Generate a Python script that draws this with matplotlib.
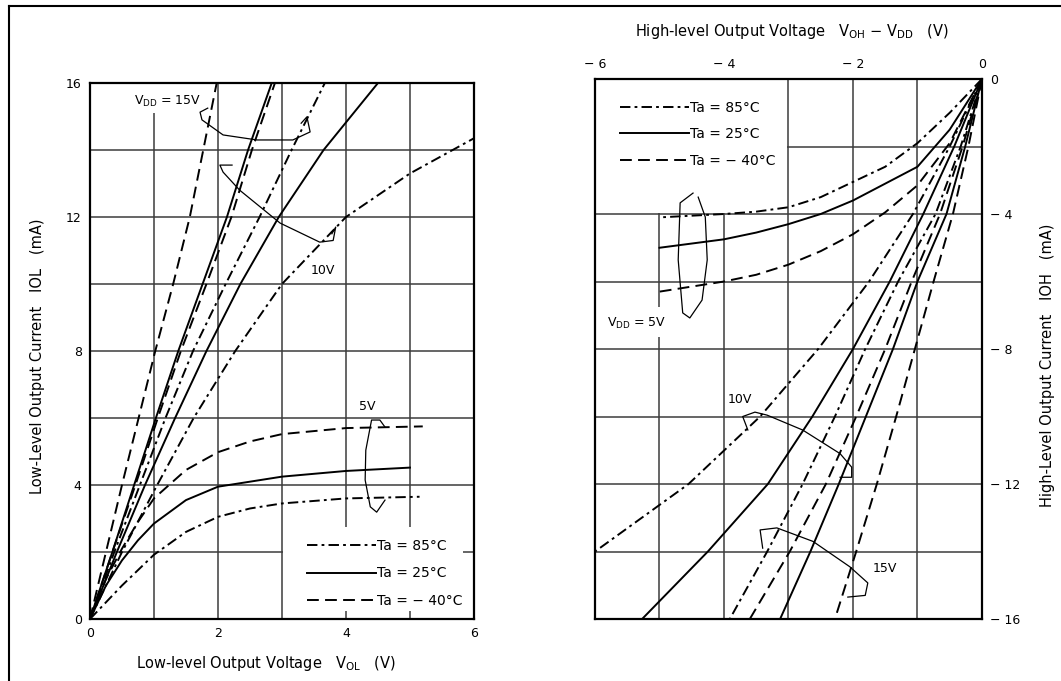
import matplotlib.pyplot as plt
from matplotlib.lines import Line2D
from matplotlib.patches import Rectangle

plt.rcParams['font.family'] = ['DejaVu Sans']
plt.rcParams['lines.scale_dashes'] = False

# ---------------- left chart: V_OL (V) vs I_OL (mA) ----------------
i_ol = [0, 2, 4, 6, 8, 10, 12, 14, 16]
vol_15_m40 = [0, 0.25, 0.5, 0.76, 1.02, 1.3, 1.56, 1.77, 1.98]
vol_15_25 = [0, 0.35, 0.69, 1.03, 1.38, 1.76, 2.14, 2.47, 2.84]
vol_15_85 = [0, 0.38, 0.78, 1.18, 1.61, 2.12, 2.65, 3.15, 3.67]
vol_10_m40 = [0, 0.35, 0.71, 1.06, 1.42, 1.82, 2.21, 2.53, 2.89]
vol_10_25 = [0, 0.42, 0.86, 1.33, 1.82, 2.35, 2.95, 3.65, 4.5]
vol_10_85 = [0, 0.5, 1.05, 1.62, 2.27, 3.0, 4.0, 5.0, 6.0]
iol_10_85 = [0, 2, 4, 6, 8, 10, 12, 13.3, 14.35]

vol_5_m40 = [0, 0.25, 0.5, 0.75, 1.0, 1.5, 2.0, 2.5, 3.0, 4.0, 5.2]
iol_5_m40 = [0, 1.2, 2.1, 2.9, 3.6, 4.45, 4.98, 5.3, 5.52, 5.7, 5.75]
vol_5_25 = [0, 0.25, 0.5, 0.75, 1.0, 1.5, 2.0, 3.0, 4.0, 5.0]
iol_5_25 = [0, 1.0, 1.75, 2.35, 2.85, 3.55, 3.95, 4.25, 4.42, 4.52]
vol_5_85 = [0, 0.5, 1.0, 1.5, 2.0, 2.5, 3.0, 4.0, 5.15]
iol_5_85 = [0, 1.0, 1.92, 2.6, 3.05, 3.3, 3.45, 3.6, 3.65]

# hand-drawn group brackets (V, mA)
brk_l15_v = [1.84, 1.72, 1.75, 2.08, 2.61, 3.17, 3.44, 3.39, 3.3]
brk_l15_i = [15.25, 15.13, 14.9, 14.45, 14.3, 14.3, 14.54, 14.99, 14.8]
brk_l10_v = [2.22, 2.03, 2.08, 2.34, 2.97, 3.59, 3.8, 3.84, 3.78]
brk_l10_i = [13.55, 13.55, 13.34, 12.8, 11.82, 11.25, 11.3, 11.7, 11.5]
brk_l5_v = [4.61, 4.53, 4.4, 4.31, 4.3, 4.38, 4.48, 4.61]
brk_l5_i = [5.73, 5.94, 5.94, 5.04, 4.15, 3.35, 3.19, 3.55]

# ---------------- right chart: V_OH - V_DD (V) vs I_OH (mA) ----------------
i_oh = [0, -2, -4, -6, -8, -10, -12, -14, -16]
voh_15_m40 = [0, -0.21, -0.45, -0.75, -1.04, -1.33, -1.63, -1.95, -2.28]
voh_15_25 = [0, -0.26, -0.55, -1.0, -1.38, -1.8, -2.22, -2.66, -3.13]
voh_15_85 = [0, -0.33, -0.72, -1.3, -1.81, -2.28, -2.78, -3.33, -3.91]
voh_10_m40 = [0, -0.3, -0.65, -1.09, -1.5, -1.95, -2.42, -2.98, -3.6]
voh_10_25 = [0, -0.43, -0.91, -1.43, -2.0, -2.63, -3.32, -4.25, -5.27]
voh_10_85 = [0, -0.5, -1.07, -1.75, -2.54, -3.44, -4.55, -6.0]
ioh_10_85 = [0, -2, -4, -6, -8, -10, -12, -14]

voh_5 = [0, -0.5, -1.0, -1.5, -2.0, -2.5, -3.0, -3.5, -4.0, -5.0]
ioh_5_m40 = [0, -1.9, -3.15, -3.95, -4.6, -5.1, -5.5, -5.8, -6.0, -6.3]
ioh_5_25 = [0, -1.5, -2.6, -3.1, -3.6, -4.0, -4.3, -4.55, -4.75, -5.0]
ioh_5_85 = [0, -1.0, -1.9, -2.6, -3.05, -3.5, -3.8, -3.93, -4.0, -4.1]

brk_r5_v = [-4.48, -4.68, -4.71, -4.64, -4.53, -4.34, -4.26, -4.29, -4.4]
brk_r5_i = [-3.38, -3.67, -5.36, -6.93, -7.08, -6.55, -5.36, -4.09, -3.5]
brk_r10_v = [-3.63, -3.71, -3.52, -3.33, -2.78, -2.2, -2.02, -2.02, -2.2]
brk_r10_i = [-10.4, -10.0, -9.87, -9.96, -10.4, -11.1, -11.5, -11.8, -11.8]
brk_r15_v = [-3.4, -3.44, -3.18, -2.62, -2.05, -1.77, -1.81, -2.08]
brk_r15_i = [-13.9, -13.36, -13.3, -13.7, -14.45, -14.93, -15.3, -15.35]

temps = ['Ta = 85°C', 'Ta = 25°C', 'Ta = − 40°C']
ls_85 = (0, (7.5, 3, 2, 3))
ls_25 = '-'
ls_m40 = (0, (8.5, 4.5))
styles = [ls_85, ls_25, ls_m40]

LW = 1.4
GRID = '#3c3c3c'

fig = plt.figure(figsize=(10.61, 6.81), dpi=100)
axL = fig.add_axes([0.0848, 0.0910, 0.3619, 0.7871])
axR = fig.add_axes([0.5608, 0.0910, 0.3647, 0.7930])

# ---- left axes ----
axL.plot(vol_15_m40, i_ol, color='k', lw=LW, ls=ls_m40, zorder=3)
axL.plot(vol_15_25, i_ol, color='k', lw=LW, ls=ls_25, zorder=3)
axL.plot(vol_15_85, i_ol, color='k', lw=LW, ls=ls_85, zorder=3)
axL.plot(vol_10_m40, i_ol, color='k', lw=LW, ls=ls_m40, zorder=3)
axL.plot(vol_10_25, i_ol, color='k', lw=LW, ls=ls_25, zorder=3)
axL.plot(vol_10_85, iol_10_85, color='k', lw=LW, ls=ls_85, zorder=3)
axL.plot(vol_5_m40, iol_5_m40, color='k', lw=LW, ls=ls_m40, zorder=3)
axL.plot(vol_5_25, iol_5_25, color='k', lw=LW, ls=ls_25, zorder=3)
axL.plot(vol_5_85, iol_5_85, color='k', lw=LW, ls=ls_85, zorder=3)
for bv, bi in [(brk_l15_v, brk_l15_i), (brk_l10_v, brk_l10_i), (brk_l5_v, brk_l5_i)]:
    axL.plot(bv, bi, color='k', lw=0.9, zorder=4)

axL.set_xlim(0, 6)
axL.set_ylim(0, 16)
axL.set_xticks(range(0, 7))
axL.set_xticklabels(['0', '', '2', '', '4', '', '6'])
axL.set_yticks(range(0, 17, 2))
axL.set_yticklabels(['0', '', '4', '', '8', '', '12', '', '16'])
axL.tick_params(length=0, labelsize=9, pad=6)
axL.grid(True, color=GRID, lw=1.1)
axL.set_axisbelow(True)

# white areas behind legend and label
axL.add_patch(Rectangle((3.02, 0.25), 2.81, 2.5, fc='white', ec='none', zorder=1))
axL.add_patch(Rectangle((0.45, 15.1), 1.45, 0.87, fc='white', ec='none', zorder=1))

axL.text(1.22, 15.46, r'V$_{\rm DD}$ = 15V', fontsize=9, ha='center', va='center', zorder=5)
axL.text(3.64, 10.4, '10V', fontsize=9, ha='center', va='center', zorder=5)
axL.text(4.34, 6.33, '5V', fontsize=9, ha='center', va='center', zorder=5)

handles = [Line2D([], [], color='k', lw=LW, ls=s) for s in styles]
axL.legend(handles, temps, loc='upper left', bbox_to_anchor=(0.565, 0.150),
           frameon=False, fontsize=10, handlelength=5.0, handletextpad=0.05,
           borderpad=0, borderaxespad=0, labelspacing=0.99)

axL.set_xlabel(r'Low-level Output Voltage   V$_{\rm OL}$   (V)', fontsize=10.5)
axL.xaxis.set_label_coords(0.458, -0.066)
axL.set_ylabel('Low-Level Output Current   IOL   (mA)', fontsize=10.5)
axL.yaxis.set_label_coords(-0.117, 0.49)

# ---- right axes ----
axR.plot(voh_15_m40, i_oh, color='k', lw=LW, ls=ls_m40, zorder=3)
axR.plot(voh_15_25, i_oh, color='k', lw=LW, ls=ls_25, zorder=3)
axR.plot(voh_15_85, i_oh, color='k', lw=LW, ls=ls_85, zorder=3)
axR.plot(voh_10_m40, i_oh, color='k', lw=LW, ls=ls_m40, zorder=3)
axR.plot(voh_10_25, i_oh, color='k', lw=LW, ls=ls_25, zorder=3)
axR.plot(voh_10_85, ioh_10_85, color='k', lw=LW, ls=ls_85, zorder=3)
axR.plot(voh_5, ioh_5_m40, color='k', lw=LW, ls=ls_m40, zorder=3)
axR.plot(voh_5, ioh_5_25, color='k', lw=LW, ls=ls_25, zorder=3)
axR.plot(voh_5, ioh_5_85, color='k', lw=LW, ls=ls_85, zorder=3)
for bv, bi in [(brk_r5_v, brk_r5_i), (brk_r10_v, brk_r10_i), (brk_r15_v, brk_r15_i)]:
    axR.plot(bv, bi, color='k', lw=0.9, zorder=4)

axR.set_xlim(-6, 0)
axR.set_ylim(-16, 0)
axR.xaxis.tick_top()
axR.yaxis.tick_right()
axR.set_xticks(range(-6, 1))
axR.set_xticklabels(['− 6', '', '− 4', '', '− 2', '', '0'])
axR.set_yticks(range(-16, 1, 2))
axR.set_yticklabels(['− 16', '', '− 12', '', '− 8', '', '− 4', '', '0'])
axR.tick_params(length=0, labelsize=9, pad=6)
axR.grid(True, color=GRID, lw=1.1)
axR.set_axisbelow(True)

axR.add_patch(Rectangle((-6.0, -3.97), 2.97, 3.97, fc='white', ec='none', zorder=1))
axR.add_patch(Rectangle((-5.9, -7.65), 1.05, 0.9, fc='white', ec='none', zorder=1))

axR.text(-5.35, -7.23, r'V$_{\rm DD}$ = 5V', fontsize=9, ha='center', va='center', zorder=5)
axR.text(-3.75, -9.5, '10V', fontsize=9, ha='center', va='center', zorder=5)
axR.text(-1.5, -14.5, '15V', fontsize=9, ha='center', va='center', zorder=5)

axR.legend(handles, temps, loc='upper left', bbox_to_anchor=(0.0646, 0.960),
           frameon=False, fontsize=10, handlelength=5.0, handletextpad=0.05,
           borderpad=0, borderaxespad=0, labelspacing=0.91)

axR.set_xlabel(r'High-level Output Voltage   V$_{\rm OH}$ − V$_{\rm DD}$   (V)', fontsize=10.5)
axR.xaxis.set_label_position('top')
axR.xaxis.set_label_coords(0.509, 1.08)
axR.set_ylabel('High-Level Output Current   IOH   (mA)', fontsize=10.5)
axR.yaxis.set_label_position('right')
axR.yaxis.set_label_coords(1.15, 0.47)

for ax in (axL, axR):
    for sp in ax.spines.values():
        sp.set_linewidth(1.6)

# scan frame
fig.add_artist(Line2D([9 / 1061, 9 / 1061], [0, 1 - 6 / 681], color='k', lw=1.5, transform=fig.transFigure))
fig.add_artist(Line2D([9 / 1061, 1], [1 - 6 / 681, 1 - 6 / 681], color='k', lw=1.5, transform=fig.transFigure))

fig.savefig('out.png', dpi=100)
